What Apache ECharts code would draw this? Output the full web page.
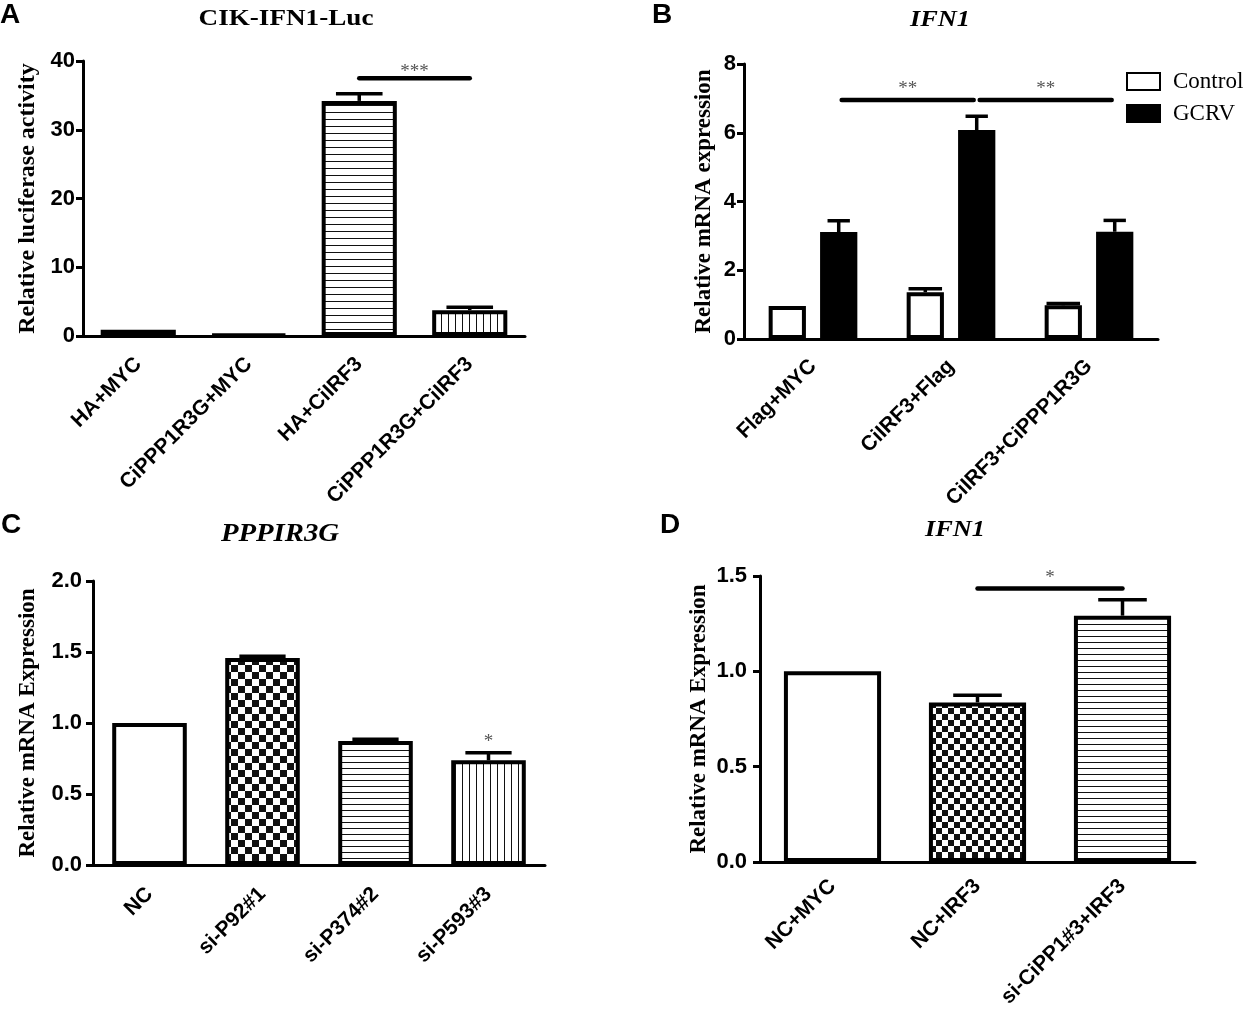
<!DOCTYPE html>
<html>
<head>
<meta charset="utf-8">
<script src="https://cdn.jsdelivr.net/npm/echarts@6/dist/echarts.min.js"></script>
<style>
  html, body { margin: 0; padding: 0; background: #fff; }
  #chart { width: 1246px; height: 1015px; }
</style>
</head>
<body>
<div id="chart"></div>
<script>
// ---- data ----
// A: CIK-IFN1-Luc
var catA = ['HA+MYC', 'CiPPP1R3G+MYC', 'HA+CiIRF3', 'CiPPP1R3G+CiIRF3'];
var valA = [0.9, 0.25, 34.2, 3.75];
var errA = [0, 0, 1.05, 0.45];
var ticksA = [0, 10, 20, 30, 40];
var sigA = [[2, 3, 37.5, '***']];

// B: IFN1 (Control / GCRV)
var catB = ['Flag+MYC', 'CiIRF3+Flag', 'CiIRF3+CiPPP1R3G'];
var ctrlB = [0.96, 1.36, 0.98];
var ctrlErrB = [0, 0.1, 0.05];
var gcrvB = [3.11, 6.08, 3.12];
var gcrvErrB = [0.33, 0.4, 0.33];
var ticksB = [0, 2, 4, 6, 8];
var sigB = [[0, 1, 6.95, '**'], [1, 2, 6.95, '**']];

// C: PPPIR3G
var catC = ['NC', 'si-P92#1', 'si-P374#2', 'si-P593#3'];
var valC = [1.0, 1.458, 0.873, 0.737];
var errC = [0, 0.012, 0.012, 0.053];
var ticksC = [0, 0.5, 1.0, 1.5, 2.0];
var sigC = [[3, 3, 0.79, '*']];

// D: IFN1
var catD = ['NC+MYC', 'NC+IRF3', 'si-CiPP1#3+IRF3'];
var valD = [1.0, 0.837, 1.292];
var errD = [0, 0.037, 0.084];
var ticksD = [0, 0.5, 1.0, 1.5];
var sigD = [[1, 2, 1.434, '*']];

var SERIF = '"Times New Roman", "Liberation Serif", serif';
var SANS = 'Arial, "Liberation Sans", sans-serif';

// ---- fill patterns ----
function pattern(kind, s) {
  var c = document.createElement('canvas');
  c.width = kind == 'v' ? s : (kind == 'h' ? 4 : s * 2);
  c.height = kind == 'h' ? s : (kind == 'v' ? 4 : s * 2);
  var ctx = c.getContext('2d');
  ctx.fillStyle = '#fff';
  ctx.fillRect(0, 0, c.width, c.height);
  ctx.fillStyle = '#111';
  if (kind == 'h') ctx.fillRect(0, 0, c.width, 1);
  else if (kind == 'v') ctx.fillRect(0, 0, 1, c.height);
  else { ctx.fillRect(0, 0, s, s); ctx.fillRect(s, s, s, s); }
  return { image: c, repeat: 'repeat' };
}

var fillA = [pattern('v', 6), pattern('h', 7), pattern('h', 7), pattern('v', 7)];
var fillC = ['#fff', pattern('c', 7), pattern('h', 6), pattern('v', 7)];
var fillD = ['#fff', pattern('c', 6), pattern('h', 6)];

function barData(vals, fills) {
  return vals.map(function (v, i) {
    return { value: v, itemStyle: { color: fills[i] } };
  });
}

// upper error bar with cap; offset/bar are fractions of the category band
function errorSeries(g, vals, errs, offset, barFrac, capFrac) {
  return {
    type: 'custom', xAxisIndex: g, yAxisIndex: g, z: 5,
    data: vals.map(function (v, i) { return [i, v, errs[i]]; }),
    encode: { x: 0, y: 1 },
    renderItem: function (params, api) {
      var i = api.value(0), v = api.value(1), e = api.value(2);
      if (!e) return;
      var band = api.size([1, 0])[0];
      var p0 = api.coord([i, v]);
      var p1 = api.coord([i, v + e]);
      var x = p0[0] + band * offset;
      var half = band * barFrac * capFrac / 2;
      var st = { stroke: '#000', lineWidth: 3.5 };
      return {
        type: 'group', children: [
          { type: 'line', shape: { x1: x, y1: p0[1], x2: x, y2: p1[1] }, style: st },
          { type: 'line', shape: { x1: x - half, y1: p1[1], x2: x + half, y2: p1[1] }, style: st }
        ]
      };
    }
  };
}

// significance bars with asterisks; lift = px from line to star centre
function sigSeries(g, sig, offset, inset, lift) {
  return {
    type: 'custom', xAxisIndex: g, yAxisIndex: g, z: 6,
    data: sig.map(function (s) { return [s[0], s[1], s[2]]; }),
    encode: { x: [0, 1], y: 2 },
    renderItem: function (params, api) {
      var s = sig[params.dataIndex];
      var band = api.size([1, 0])[0];
      var a = api.coord([api.value(0), api.value(2)]);
      var b = api.coord([api.value(1), api.value(2)]);
      var x1 = a[0] + band * offset, x2 = b[0] + band * offset;
      var kids = [];
      if (x2 > x1) {
        kids.push({ type: 'line', shape: { x1: x1 + inset, y1: a[1], x2: x2 - inset, y2: a[1] },
          style: { stroke: '#000', lineWidth: 4.5, lineCap: 'round' } });
      }
      kids.push({ type: 'text', style: { text: s[3], x: (x1 + x2) / 2, y: a[1] - lift + 4,
        align: 'center', verticalAlign: 'middle', fontFamily: SERIF, fontSize: 19, fill: '#555' } });
      return { type: 'group', children: kids };
    }
  };
}

function xAxisOf(g, cats, margin) {
  return {
    type: 'category', gridIndex: g, data: cats,
    axisLine: { lineStyle: { color: '#000', width: 3 } },
    axisTick: { alignWithLabel: true, length: 8, lineStyle: { color: '#000', width: 3 } },
    axisLabel: { interval: 0, rotate: 45, margin: margin, color: '#000',
      fontFamily: SANS, fontWeight: 'bold', fontSize: 21 }
  };
}

function yAxisOf(g, ticks, name, gap, digits, margin, size) {
  return {
    type: 'value', gridIndex: g,
    min: ticks[0], max: ticks[ticks.length - 1], interval: ticks[1] - ticks[0],
    name: name, nameLocation: 'middle', nameGap: gap,
    nameTextStyle: { fontFamily: SERIF, fontWeight: 'bold', fontSize: size, color: '#000' },
    splitLine: { show: false },
    axisLine: { show: true, lineStyle: { color: '#000', width: 3 } },
    axisTick: { show: true, length: 7, lineStyle: { color: '#000', width: 3 } },
    axisLabel: { color: '#000', fontFamily: SANS, fontWeight: 'bold', fontSize: 22, margin: margin,
      formatter: function (v) { return v.toFixed(digits); } }
  };
}

function heading(x, y, text, italic, size, sx) {
  return { type: 'text', x: x, y: y, scaleX: sx,
    style: { text: text, align: 'center', verticalAlign: 'middle',
      fontFamily: SERIF, fontWeight: 'bold', fontStyle: italic ? 'italic' : 'normal', fontSize: size, fill: '#000' } };
}
function letter(x, y, text) {
  return { type: 'text', x: x, y: y, style: { text: text, fontFamily: SANS, fontWeight: 'bold', fontSize: 28, fill: '#000' } };
}

var barStyle = { borderColor: '#000', borderWidth: 4 };
var bwB = 0.27, gapB = 0.38;
var offB = bwB * (1 + gapB) / 2;

var myChart = echarts.init(document.getElementById('chart'));

option = {
  animation: false,
  backgroundColor: '#fff',
  grid: [
    { left: 83, top: 61, width: 442, height: 275 },
    { left: 744, top: 64, width: 414, height: 275 },
    { left: 93, top: 581, width: 452, height: 284 },
    { left: 760, top: 576, width: 435, height: 286 }
  ],
  xAxis: [xAxisOf(0, catA, 25), xAxisOf(1, catB, 24), xAxisOf(2, catC, 26), xAxisOf(3, catD, 21)],
  yAxis: [
    yAxisOf(0, ticksA, 'Relative luciferase activity', 43, 0, 8, 24),
    yAxisOf(1, ticksB, 'Relative mRNA expression', 28, 0, 8, 23),
    yAxisOf(2, ticksC, 'Relative mRNA Expression', 53, 1, 11, 23),
    yAxisOf(3, ticksD, 'Relative mRNA Expression', 49, 1, 13, 23)
  ],
  legend: {
    left: 1126, top: 70, orient: 'vertical', icon: 'rect', padding: 0,
    itemWidth: 33, itemHeight: 17, itemGap: 9,
    textStyle: { fontFamily: SERIF, fontSize: 23, color: '#000', padding: [0, 0, 0, 8] },
    data: ['Control', 'GCRV']
  },
  graphic: [
    letter(0, 1, 'A'), letter(652, 1, 'B'), letter(1, 511, 'C'), letter(660, 511, 'D'),
    heading(286, 19, 'CIK-IFN1-Luc', false, 23, 1.18),
    heading(940, 20, 'IFN1', true, 24, 1.1),
    heading(280, 535, 'PPPIR3G', true, 25, 1.15),
    heading(955, 530, 'IFN1', true, 24, 1.1)
  ],
  series: [
    { type: 'bar', xAxisIndex: 0, yAxisIndex: 0, barWidth: '68%', itemStyle: barStyle, data: barData(valA, fillA) },
    errorSeries(0, valA, errA, 0, 0.68, 0.62),
    sigSeries(0, sigA, 0, 0, 10),

    { name: 'Control', type: 'bar', xAxisIndex: 1, yAxisIndex: 1, barWidth: bwB * 100 + '%', barGap: gapB * 100 + '%',
      itemStyle: { color: '#fff', borderColor: '#000', borderWidth: 4 }, data: ctrlB },
    { name: 'GCRV', type: 'bar', xAxisIndex: 1, yAxisIndex: 1, barWidth: bwB * 100 + '%', barGap: gapB * 100 + '%',
      itemStyle: { color: '#000', borderColor: '#000', borderWidth: 4 }, data: gcrvB },
    errorSeries(1, ctrlB, ctrlErrB, -offB, bwB, 0.9),
    errorSeries(1, gcrvB, gcrvErrB, offB, bwB, 0.6),
    sigSeries(1, sigB, offB, 3, 15),

    { type: 'bar', xAxisIndex: 2, yAxisIndex: 2, barWidth: '66%', itemStyle: barStyle, data: barData(valC, fillC) },
    errorSeries(2, valC, errC, 0, 0.66, 0.62),
    sigSeries(2, sigC, 0, 0, 15),

    { type: 'bar', xAxisIndex: 3, yAxisIndex: 3, barWidth: '67%', itemStyle: barStyle, data: barData(valD, fillD) },
    errorSeries(3, valD, errD, 0, 0.67, 0.5),
    sigSeries(3, sigD, 0, 0, 15)
  ]
};

myChart.setOption(option, true);
</script>
</body>
</html>
